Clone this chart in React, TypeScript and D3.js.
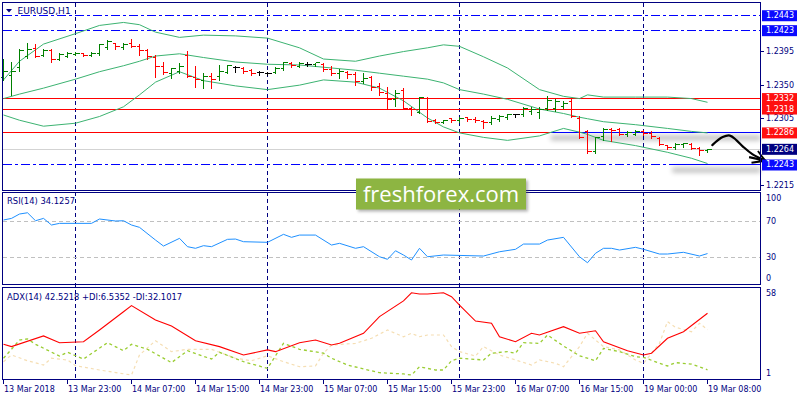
import * as d3 from "d3";

// EURUSD H1 bars (index 0 = 13 Mar 15:00)
const opens = [
  1.2360, 1.2363, 1.2373, 1.2389, 1.2399, 1.2390, 1.2396, 1.2385, 1.2389, 1.2391,
  1.2392, 1.2390, 1.2393, 1.2401, 1.2406, 1.2401, 1.2406, 1.2402, 1.2396, 1.2387,
  1.2375, 1.2366, 1.2368, 1.2390, 1.2360, 1.2356, 1.2362, 1.2361, 1.2367, 1.2374,
  1.2372, 1.2369, 1.2367, 1.2366, 1.2367, 1.2372, 1.2379, 1.2375, 1.2378, 1.2377,
  1.2378, 1.2371, 1.2366, 1.2367, 1.2364, 1.2355, 1.2360, 1.2348, 1.2339, 1.2331,
  1.2343, 1.2319, 1.2314, 1.2332, 1.2303, 1.2300, 1.2305, 1.2303, 1.2306, 1.2304,
  1.2301, 1.2300, 1.2304, 1.2307, 1.2310, 1.2310, 1.2315, 1.2314, 1.2319, 1.2319,
  1.2322, 1.2328, 1.2305, 1.2288, 1.2261, 1.2281, 1.2291, 1.2290, 1.2284, 1.2284,
  1.2288, 1.2285, 1.2279, 1.2269, 1.2267, 1.2270, 1.2271, 1.2265, 1.2262,
];
const highs = [
  1.2385, 1.2381, 1.2398, 1.2406, 1.2405, 1.2398, 1.2398, 1.2393, 1.2394, 1.2394,
  1.2393, 1.2395, 1.2405, 1.2410, 1.2407, 1.2406, 1.2412, 1.2405, 1.2398, 1.2390,
  1.2381, 1.2373, 1.2380, 1.2396, 1.2375, 1.2366, 1.2366, 1.2377, 1.2377, 1.2375,
  1.2374, 1.2371, 1.2369, 1.2368, 1.2374, 1.2381, 1.2381, 1.2381, 1.2381, 1.2380,
  1.2380, 1.2375, 1.2371, 1.2369, 1.2367, 1.2366, 1.2362, 1.2353, 1.2348, 1.2344,
  1.2346, 1.2321, 1.2334, 1.2334, 1.2304, 1.2303, 1.2306, 1.2307, 1.2307, 1.2307,
  1.2303, 1.2308, 1.2310, 1.2312, 1.2312, 1.2321, 1.2321, 1.2321, 1.2335, 1.2331,
  1.2329, 1.2331, 1.2308, 1.2290, 1.2281, 1.2293, 1.2292, 1.2292, 1.2289, 1.2290,
  1.2290, 1.2288, 1.2280, 1.2270, 1.2273, 1.2273, 1.2272, 1.2267, 1.2265,
];
const lows = [
  1.2357, 1.2337, 1.2369, 1.2386, 1.2388, 1.2389, 1.2381, 1.2384, 1.2388, 1.2390,
  1.2389, 1.2389, 1.2390, 1.2399, 1.2399, 1.2399, 1.2401, 1.2391, 1.2385, 1.2361,
  1.2365, 1.2360, 1.2366, 1.2361, 1.2348, 1.2346, 1.2346, 1.2357, 1.2366, 1.2368,
  1.2366, 1.2364, 1.2364, 1.2363, 1.2366, 1.2370, 1.2374, 1.2374, 1.2375, 1.2376,
  1.2369, 1.2364, 1.2360, 1.2359, 1.2350, 1.2353, 1.2344, 1.2337, 1.2319, 1.2322,
  1.2318, 1.2310, 1.2313, 1.2300, 1.2299, 1.2299, 1.2301, 1.2301, 1.2302, 1.2300,
  1.2293, 1.2298, 1.2302, 1.2305, 1.2307, 1.2309, 1.2311, 1.2306, 1.2317, 1.2316,
  1.2319, 1.2307, 1.2279, 1.2259, 1.2259, 1.2276, 1.2275, 1.2283, 1.2282, 1.2283,
  1.2283, 1.2279, 1.2270, 1.2265, 1.2265, 1.2267, 1.2264, 1.2256, 1.2261,
];
const closes = [
  1.2368, 1.2368, 1.2397, 1.2398, 1.2389, 1.2396, 1.2385, 1.2391, 1.2393, 1.2393,
  1.2390, 1.2393, 1.2404, 1.2408, 1.2402, 1.2405, 1.2402, 1.2396, 1.2388, 1.2375,
  1.2367, 1.2372, 1.2375, 1.2362, 1.2358, 1.2362, 1.2358, 1.2368, 1.2376, 1.2374,
  1.2368, 1.2366, 1.2367, 1.2366, 1.2372, 1.2380, 1.2376, 1.2379, 1.2378, 1.2380,
  1.2371, 1.2365, 1.2368, 1.2364, 1.2355, 1.2359, 1.2347, 1.2340, 1.2331, 1.2339,
  1.2319, 1.2318, 1.2334, 1.2301, 1.2300, 1.2302, 1.2302, 1.2305, 1.2304, 1.2302,
  1.2300, 1.2305, 1.2308, 1.2310, 1.2310, 1.2319, 1.2318, 1.2317, 1.2330, 1.2328,
  1.2326, 1.2308, 1.2280, 1.2261, 1.2280, 1.2291, 1.2289, 1.2284, 1.2286, 1.2288,
  1.2285, 1.2281, 1.2271, 1.2267, 1.2270, 1.2272, 1.2265, 1.2262, 1.2264,
];

// Bollinger bands, sampled at these bar indices
const bbIdx = [0, 2, 5, 9, 12, 15, 17, 19, 22, 25, 29, 33, 37, 40, 44, 47, 50, 53, 55, 57, 60, 63, 67, 70, 72, 73, 75, 79, 83, 86, 88];
const bbUpper = [1.2357, 1.2382, 1.2405, 1.2419, 1.2430, 1.2434, 1.2431, 1.2421, 1.2414, 1.2417, 1.2416, 1.2413, 1.2400, 1.2385, 1.2382, 1.2389, 1.2395, 1.2400, 1.2404, 1.2402, 1.2388, 1.2373, 1.2344, 1.2335, 1.2332, 1.2337, 1.2334, 1.2334, 1.2334, 1.2332, 1.2327];
const bbMiddle = [1.2332, 1.2338, 1.2346, 1.2358, 1.2368, 1.2376, 1.2382, 1.2389, 1.2392, 1.2387, 1.2381, 1.2378, 1.2377, 1.2374, 1.2370, 1.2366, 1.2362, 1.2358, 1.2353, 1.2344, 1.2338, 1.2331, 1.2318, 1.2312, 1.2307, 1.2305, 1.2301, 1.2297, 1.2292, 1.2288, 1.2286];
const bbLower = [1.2310, 1.2303, 1.2295, 1.2299, 1.2308, 1.2321, 1.2337, 1.2354, 1.2368, 1.2356, 1.2349, 1.2344, 1.2350, 1.2357, 1.2354, 1.2346, 1.2329, 1.2306, 1.2294, 1.2286, 1.2280, 1.2276, 1.2282, 1.2292, 1.2287, 1.2284, 1.2276, 1.2269, 1.2260, 1.2252, 1.2245];

// RSI(14)
const rsiIdx = [0, 1, 2, 3, 4, 5, 6, 7, 11, 12, 14, 15, 16, 17, 19, 20, 22, 23, 24, 25, 26, 28, 29, 30, 33, 35, 36, 37, 39, 41, 42, 44, 45, 47, 48, 49, 50, 51, 52, 53, 55, 60, 62, 64, 65, 67, 68, 70, 72, 73, 74, 75, 76, 77, 79, 80, 82, 83, 85, 87, 88];
const rsiVal = [71.1, 72.9, 77.7, 79.1, 70.3, 72.9, 65.6, 67.4, 67.4, 72.2, 70, 70.3, 65.6, 63, 49, 42.4, 50.9, 41.7, 39.9, 42.8, 41.7, 49.8, 50.1, 47.2, 46.5, 55.3, 52, 54.5, 54.5, 43.5, 45.4, 39.9, 41.7, 30.6, 27.8, 37.2, 32.5, 27, 39.9, 30.6, 32.5, 31.4, 36.1, 38.8, 44.6, 44.6, 49, 52, 30.6, 24, 34.4, 39.9, 39.9, 38, 41, 38.8, 33.6, 33.6, 35.5, 31.4, 34.1257];
const rsiLevels = [70, 30];
const rsiTicks = [100, 70, 30, 0];

// ADX(14) with +DI / -DI
const adxIdx = [0, 1, 5, 7, 10, 12, 15, 16, 19, 21, 24, 27, 30, 33, 34, 37, 39, 41, 42, 45, 47, 50, 51, 52, 53, 55, 56, 57, 59, 61, 62, 64, 66, 67, 70, 72, 74, 75, 78, 80, 81, 83, 85, 88];
const adxVal = [22.8, 21.3, 28.1, 23.8, 24.4, 31.9, 43.5, 47.4, 38.3, 34.4, 25.1, 21.3, 16, 19.2, 18.1, 23.8, 25.5, 22.3, 23.4, 29.8, 40.4, 50.4, 55.6, 54.8, 54.8, 55.6, 53.1, 47.8, 37.6, 36.2, 27.6, 24.4, 29.8, 28.7, 34, 29.8, 31.4, 24.4, 18.7, 16, 17.1, 26.6, 30.8, 42.5218];
const plusDiIdx = [0, 1, 2, 3, 4, 7, 8, 10, 13, 15, 16, 18, 21, 23, 26, 27, 30, 33, 35, 37, 40, 41, 43, 45, 47, 50, 51, 52, 54, 55, 56, 57, 60, 61, 63, 64, 65, 67, 68, 70, 72, 74, 75, 77, 79, 80, 82, 83, 84, 86, 88];
const plusDiVal = [13.9, 19.6, 25.5, 26.2, 22.8, 15.3, 17.7, 13.4, 23.8, 18.7, 22.8, 19.6, 11.1, 18.7, 13.4, 17.7, 11.7, 7.5, 23.4, 19.6, 17.1, 13.9, 9.6, 7.1, 4.7, 3.9, 3.2, 8.5, 6.4, 6.4, 12.3, 13.9, 12.8, 17.1, 18.1, 17.1, 23.8, 23.4, 28.7, 21.7, 15.5, 12.3, 20.2, 18.1, 14.9, 14.5, 10.7, 9, 11.1, 10.2, 6.5352];
const minusDiIdx = [0, 1, 3, 5, 6, 8, 9, 12, 16, 17, 19, 21, 23, 26, 29, 31, 33, 35, 37, 39, 40, 41, 44, 46, 48, 50, 51, 52, 53, 55, 56, 57, 59, 60, 62, 64, 66, 67, 69, 70, 72, 73, 75, 77, 79, 80, 82, 83, 84, 86, 87, 88];
const minusDiVal = [11.7, 16, 12.3, 9.6, 13.9, 12.8, 9.2, 6.4, 3.2, 16, 25.1, 18.1, 19.6, 19.6, 13.9, 12.3, 15.5, 11.7, 8.5, 9, 17.1, 22.3, 23.4, 26.6, 31.9, 27.6, 29.8, 27.6, 28.7, 28.7, 21.3, 18.1, 15.3, 21.3, 16, 12.8, 9.6, 12.8, 10.7, 8.5, 21.3, 29.8, 21.3, 19.2, 12.8, 10.7, 23.4, 37.2, 33.6, 30.8, 36.2, 32.1017];
const adxTicks = [58, 1];

// price scale labels and drawn levels
const priceTicks = [1.2395, 1.235, 1.2305, 1.2215];
const blueLevels = [1.2443, 1.2423, 1.2243];
const redLevels = [1.2332, 1.2318, 1.2286];
const bidPrice = 1.2264;
const segLevels = [1.2286, 1.2243];
const segStartBars = [68.4, 83.6];

// time axis
const timeIdx = [0, 8, 16, 24, 32, 40, 48, 56, 64, 72, 80, 88];
const timeLabels = [
  "13 Mar 2018", "13 Mar 23:00", "14 Mar 07:00", "14 Mar 15:00", "14 Mar 23:00", "15 Mar 07:00",
  "15 Mar 15:00", "15 Mar 23:00", "16 Mar 07:00", "16 Mar 15:00", "19 Mar 00:00", "19 Mar 08:00",
];
const daySeparators = [9, 33, 57, 80];

// hand-drawn forecast arrow, in (bar, price)
const arrowPts: [number, number][] = [
  [88.6, 1.22697], [89.9, 1.22804], [90.8, 1.22824], [91.6, 1.22764], [92.5, 1.2267], [93.6, 1.22576], [95.1, 1.22496],
];
const arrowHead: [number, number][] = [[93.2, 1.22536], [95.2, 1.22489], [93.5, 1.2246]];
const arrowHead2: [number, number][] = [[94.3, 1.22617], [95.2, 1.22489]];

const NAVY = "#000080";
const FONT = "'DejaVu Sans', Tahoma, sans-serif";

const L = 2.5;
const R = 760.5;
const main = { top: 2.5, bottom: 190 };
const rsiP = { top: 192.5, bottom: 284.5 };
const adxP = { top: 287.5, bottom: 379.5 };

const fmt4 = d3.format(".4f");
const crisp = (v: number) => Math.round(v - 0.5) + 0.5;

export default function App() {
  const x = d3.scaleLinear().domain([0, 88]).range([3.5, 707.5]);
  const y = d3.scaleLinear().domain([1.22095, 1.2461]).range([190, 2.3]);
  const yRsi = d3.scaleLinear().domain([0, 100]).range([284.5, 193.8]);
  const yAdx = d3.scaleLinear().domain([1, 58]).range([378.5, 289]);

  const zip = (a: number[], b: number[]) => a.map((v, i) => [v, b[i]] as [number, number]);

  const priceLine = d3.line<[number, number]>().x((d) => x(d[0])).y((d) => y(d[1]));
  const rsiLine = d3.line<[number, number]>().x((d) => x(d[0])).y((d) => yRsi(d[1]));
  const adxLine = d3.line<[number, number]>().x((d) => x(d[0])).y((d) => yAdx(d[1]));
  const arrowLine = d3
    .line<[number, number]>()
    .x((d) => x(d[0]))
    .y((d) => y(d[1]))
    .curve(d3.curveCatmullRom);

  const clampLabel = (v: number, p: { top: number; bottom: number }) =>
    Math.min(Math.max(v, p.top + 6), p.bottom - 6);

  const priceBox = (p: number, fill: string, key: string) => (
    <g key={key}>
      <rect x={762} y={y(p) - 5.5} width={35} height={11} fill={fill} />
      <text x={766} y={y(p)} dominantBaseline="central" fill="#fff" fontSize={8} fontFamily={FONT}>
        {fmt4(p)}
      </text>
    </g>
  );

  return (
    <div style={{ position: "absolute", left: 0, top: 0, width: 800, height: 400, background: "#fff" }}>
      <svg width={800} height={400} style={{ display: "block" }}>
        <defs>
          <filter id="blur" x="-20%" y="-100%" width="140%" height="300%">
            <feGaussianBlur stdDeviation="2.5" />
          </filter>
          <filter id="wmShadow" x="-10%" y="-30%" width="120%" height="160%">
            <feGaussianBlur stdDeviation="1.5" />
          </filter>
        </defs>
        <rect width={800} height={400} fill="#fff" />

        {/* shadows under the blue segments */}
        {segLevels.map((p, i) => (
          <rect
            key={"sh" + i}
            x={x(segStartBars[i])}
            y={y(p) + 2.5}
            width={R - x(segStartBars[i])}
            height={5}
            fill="#000"
            opacity={0.25}
            filter="url(#blur)"
          />
        ))}

        {/* day separators */}
        {daySeparators.map((d) => (
          <line
            key={"sep" + d}
            x1={x(d)}
            x2={x(d)}
            y1={main.top}
            y2={adxP.bottom}
            stroke={NAVY}
            strokeDasharray="4,3"
            shapeRendering="crispEdges"
          />
        ))}

        {/* horizontal levels */}
        <line x1={L} x2={R} y1={crisp(y(bidPrice))} y2={crisp(y(bidPrice))} stroke="#d3d3d3" shapeRendering="crispEdges" />
        {blueLevels.map((p) => (
          <line
            key={"bl" + p}
            x1={L}
            x2={R}
            y1={crisp(y(p))}
            y2={crisp(y(p))}
            stroke="#0000ff"
            strokeDasharray="9,3,3,3"
            shapeRendering="crispEdges"
          />
        ))}
        {redLevels.map((p) => (
          <line key={"rl" + p} x1={L} x2={R} y1={crisp(y(p))} y2={crisp(y(p))} stroke="#ff0000" shapeRendering="crispEdges" />
        ))}
        {segLevels.map((p, i) => (
          <line
            key={"sg" + p}
            x1={x(segStartBars[i])}
            x2={R}
            y1={crisp(y(p))}
            y2={crisp(y(p))}
            stroke="#0000ff"
            shapeRendering="crispEdges"
          />
        ))}

        {/* Bollinger bands */}
        {[bbUpper, bbMiddle, bbLower].map((band, k) => (
          <path key={"bb" + k} d={priceLine(zip(bbIdx, band)) || ""} fill="none" stroke="#3cb371" strokeWidth={1} />
        ))}

        {/* OHLC bars */}
        {closes.map((c, i) => {
          const o = opens[i];
          const color = c > o ? "#008000" : c < o ? "#ff0000" : "#000000";
          const bx = x(i);
          return (
            <g key={"bar" + i} stroke={color} shapeRendering="crispEdges">
              <line x1={bx} x2={bx} y1={Math.round(y(highs[i]))} y2={Math.round(y(lows[i])) + 1} />
              <line x1={bx - 3} x2={bx} y1={crisp(y(o))} y2={crisp(y(o))} />
              <line x1={bx} x2={bx + 4} y1={crisp(y(c))} y2={crisp(y(c))} />
            </g>
          );
        })}

        {/* forecast arrow */}
        <path d={arrowLine(arrowPts) || ""} fill="none" stroke="#000" strokeWidth={2.2} strokeLinecap="round" />
        <path d={priceLine(arrowHead) || ""} fill="none" stroke="#000" strokeWidth={2.2} strokeLinejoin="round" />
        <path d={priceLine(arrowHead2) || ""} fill="none" stroke="#000" strokeWidth={1.8} />

        {/* RSI */}
        {rsiLevels.map((v) => (
          <line
            key={"rlv" + v}
            x1={L}
            x2={R}
            y1={crisp(yRsi(v))}
            y2={crisp(yRsi(v))}
            stroke="#c0c0c0"
            strokeDasharray="4,3"
            shapeRendering="crispEdges"
          />
        ))}
        <path d={rsiLine(zip(rsiIdx, rsiVal)) || ""} fill="none" stroke="#1e90ff" strokeWidth={1} />

        {/* ADX */}
        <path d={adxLine(zip(minusDiIdx, minusDiVal)) || ""} fill="none" stroke="#f5deb3" strokeWidth={1.2} strokeDasharray="3,3" />
        <path d={adxLine(zip(plusDiIdx, plusDiVal)) || ""} fill="none" stroke="#9acd32" strokeWidth={1.3} strokeDasharray="3,3" />
        <path d={adxLine(zip(adxIdx, adxVal)) || ""} fill="none" stroke="#ff0000" strokeWidth={1.1} />

        {/* panel frames */}
        {[main, rsiP, adxP].map((p, i) => (
          <rect
            key={"fr" + i}
            x={L}
            y={p.top}
            width={R - L}
            height={p.bottom - p.top}
            fill="none"
            stroke={NAVY}
            shapeRendering="crispEdges"
          />
        ))}

        {/* price axis */}
        {priceTicks.map((p) => (
          <g key={"pt" + p}>
            <line x1={R} x2={R + 3} y1={crisp(y(p))} y2={crisp(y(p))} stroke={NAVY} shapeRendering="crispEdges" />
            <text x={766} y={y(p)} dominantBaseline="central" fill={NAVY} fontSize={8} fontFamily={FONT}>
              {fmt4(p)}
            </text>
          </g>
        ))}
        {blueLevels.map((p) => priceBox(p, "#0a0aff", "bb" + p))}
        {redLevels.map((p) => priceBox(p, "#ff1010", "rb" + p))}
        {priceBox(bidPrice, NAVY, "bid")}

        {/* RSI / ADX axes */}
        {rsiTicks.map((v) => (
          <text
            key={"rt" + v}
            x={766}
            y={clampLabel(yRsi(v), rsiP)}
            dominantBaseline="central"
            fill={NAVY}
            fontSize={8}
            fontFamily={FONT}
          >
            {v}
          </text>
        ))}
        {adxTicks.map((v) => (
          <text
            key={"at" + v}
            x={766}
            y={clampLabel(yAdx(v), adxP)}
            dominantBaseline="central"
            fill={NAVY}
            fontSize={8}
            fontFamily={FONT}
          >
            {v}
          </text>
        ))}

        {/* time axis */}
        {timeIdx.map((t, i) => (
          <g key={"tm" + t}>
            <line x1={x(t)} x2={x(t)} y1={adxP.bottom} y2={adxP.bottom + 4} stroke={NAVY} shapeRendering="crispEdges" />
            <text x={x(t) + 0.5} y={392} fill={NAVY} fontSize={8} fontFamily={FONT}>
              {timeLabels[i]}
            </text>
          </g>
        ))}

        {/* titles */}
        <path d="M6,9 L12,9 L9,12.5 Z" fill={NAVY} />
        <text x={17.5} y={10.5} dominantBaseline="central" fill={NAVY} fontSize={9} fontFamily={FONT}>
          EURUSD,H1
        </text>
        <text x={7} y={201} dominantBaseline="central" fill={NAVY} fontSize={8.4} fontFamily={FONT}>
          {`RSI(14) ${fmt4(rsiVal[rsiVal.length - 1])}`}
        </text>
        <text x={7} y={297} dominantBaseline="central" fill={NAVY} fontSize={8.4} fontFamily={FONT}>
          {`ADX(14) ${fmt4(adxVal[adxVal.length - 1])} +DI:${fmt4(plusDiVal[plusDiVal.length - 1])} -DI:${fmt4(
            minusDiVal[minusDiVal.length - 1]
          )}`}
        </text>

        {/* watermark */}
        <rect x={358} y={180.5} width={170} height={31} fill="#555" opacity={0.45} filter="url(#wmShadow)" />
        <rect x={356} y={178.5} width={170} height={31} fill="#8db542" />
        <text x={441} y={201.5} textAnchor="middle" fill="#fff" fontSize={22} fontFamily="'Open Sans', sans-serif">
          freshforex.com
        </text>
      </svg>
    </div>
  );
}
